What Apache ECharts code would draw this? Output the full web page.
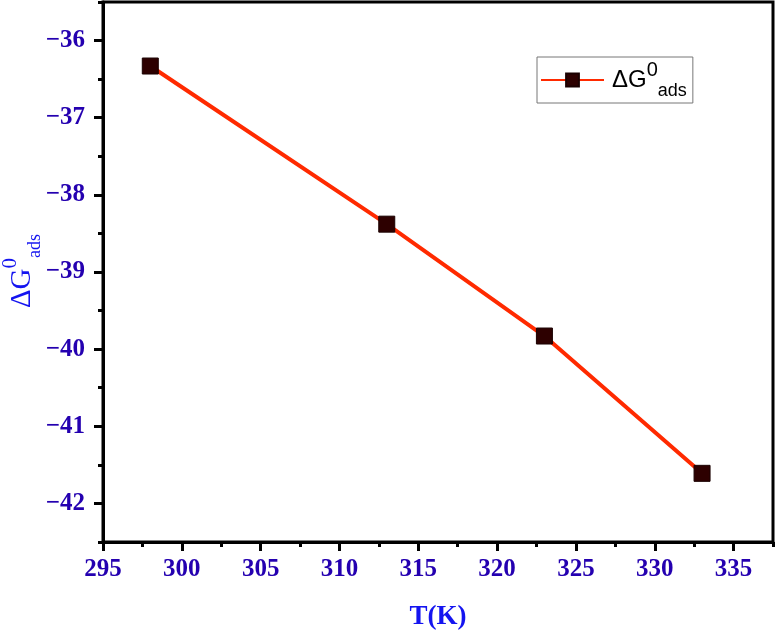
<!DOCTYPE html>
<html>
<head>
<meta charset="utf-8">
<script src="https://cdn.jsdelivr.net/npm/echarts@6/dist/echarts.min.js"></script>
<style>
html,body{margin:0;padding:0;background:#fff;}
#chart{width:776px;height:631px;}
</style>
</head>
<body>
<div id="chart"></div>
<script>
// Data
var temperatures = [298, 313, 323, 333];
var deltaG = [-36.33, -38.38, -39.83, -41.61];
var xTickLabels = [295, 300, 305, 310, 315, 320, 325, 330, 335];
var yTickLabels = [-42, -41, -40, -39, -38, -37, -36];
var seriesName = 'ΔG0ads';

var labelColor = '#2400b0';
var titleColor = '#1414f0';
var serif = 'Liberation Serif';
var sans = 'Liberation Sans';

var chart = echarts.init(document.getElementById('chart'), null, {renderer: 'canvas'});

var points = temperatures.map(function (t, i) { return [t, deltaG[i]]; });

function makeFormatter(list) {
  return function (v) {
    for (var i = 0; i < list.length; i++) {
      if (Math.abs(list[i] - v) < 1e-6) return String(list[i]).replace('-', '\u2212');
    }
    return '';
  };
}

var option = {
  backgroundColor: '#fff',
  animation: false,
  textStyle: {fontFamily: serif},
  grid: {
    left: 103, right: 3, top: 2, bottom: 89,
    show: true, borderColor: '#000', borderWidth: 3, backgroundColor: 'transparent'
  },
  xAxis: [{
    type: 'value', min: 295, max: 337.5, interval: 2.5,
    axisLine: {show: true, lineStyle: {color: '#000', width: 3}},
    axisTick: {show: true, customValues: xTickLabels, length: 9, lineStyle: {color: '#000', width: 3}},
    axisLabel: {
      margin: 15, showMinLabel: true, showMaxLabel: true, hideOverlap: false,
      color: labelColor, fontFamily: serif, fontWeight: 'bold', fontSize: 25,
      formatter: makeFormatter(xTickLabels)
    },
    splitLine: {show: false}
  }, {
    type: 'value', min: 295, max: 337.5, interval: 2.5, position: 'bottom',
    axisLine: {show: false},
    axisTick: {show: true, length: 5, lineStyle: {color: '#000', width: 3}},
    axisLabel: {show: false},
    splitLine: {show: false}
  }],
  yAxis: [{
    type: 'value', min: -42.5, max: -35.5, interval: 0.5,
    axisLine: {show: true, lineStyle: {color: '#000', width: 3}},
    axisTick: {show: true, customValues: yTickLabels, length: 9, lineStyle: {color: '#000', width: 3}},
    axisLabel: {
      margin: 18, hideOverlap: false,
      color: labelColor, fontFamily: serif, fontWeight: 'bold', fontSize: 25,
      formatter: makeFormatter(yTickLabels)
    },
    splitLine: {show: false}
  }, {
    type: 'value', min: -42.5, max: -35.5, interval: 0.5, position: 'left',
    axisLine: {show: false},
    axisTick: {show: true, length: 5, lineStyle: {color: '#000', width: 3}},
    axisLabel: {show: false},
    splitLine: {show: false}
  }],
  legend: {
    show: true,
    left: 537, top: 57,
    orient: 'vertical',
    backgroundColor: '#fff',
    borderColor: '#777', borderWidth: 1,
    padding: [3, 6, 3, 3],
    itemWidth: 63, itemHeight: 16, itemGap: 0,
    data: [seriesName],
    formatter: function () { return '{a|ΔG}{b|0}{c|ads}'; },
    textStyle: {
      padding: [0, 0, 0, 3],
      rich: {
        a: {fontFamily: sans, fontSize: 24, color: '#000', lineHeight: 40, verticalAlign: 'middle'},
        b: {fontFamily: sans, fontSize: 20, color: '#000', lineHeight: 24, verticalAlign: 'top'},
        c: {fontFamily: sans, fontSize: 18, color: '#000', lineHeight: 20, verticalAlign: 'bottom'}
      }
    }
  },
  graphic: [{
    type: 'text',
    x: 438, y: 617,
    style: {
      text: 'T(K)', fill: titleColor, fontFamily: serif, fontWeight: 'bold', fontSize: 27,
      align: 'center', verticalAlign: 'middle'
    }
  }, {
    type: 'text',
    x: 22, y: 271,
    rotation: Math.PI / 2,
    style: {
      text: '{a|ΔG}{b|0}{c|ads}',
      align: 'center', verticalAlign: 'middle',
      rich: {
        a: {fontFamily: serif, fontSize: 29, fill: titleColor, lineHeight: 44, verticalAlign: 'middle'},
        b: {fontFamily: serif, fontSize: 21, fill: titleColor, lineHeight: 24, verticalAlign: 'top'},
        c: {fontFamily: serif, fontSize: 18, fill: titleColor, lineHeight: 18, verticalAlign: 'bottom'}
      }
    }
  }],
  series: [{
    name: seriesName,
    type: 'line',
    xAxisIndex: 0, yAxisIndex: 0,
    data: points,
    symbol: 'rect', symbolSize: 16,
    lineStyle: {color: '#ff2a00', width: 4},
    itemStyle: {color: '#2d0000', borderColor: '#1a0000', borderWidth: 1},
    z: 3
  }]
};
chart.setOption(option);
</script>
</body>
</html>
